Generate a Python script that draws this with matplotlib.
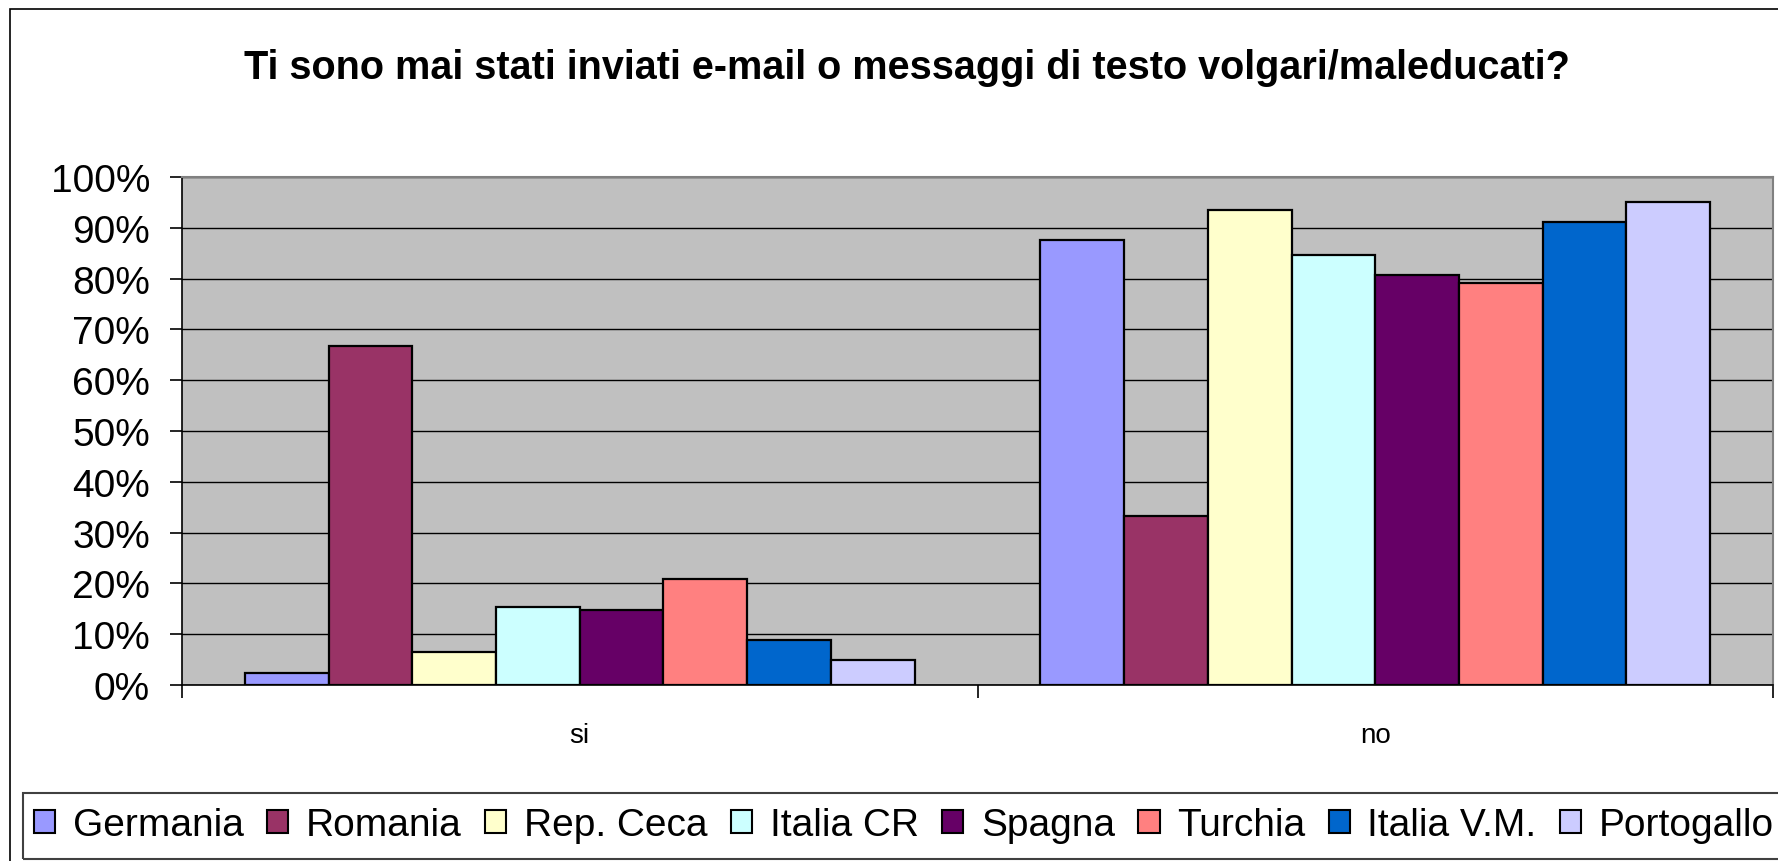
import matplotlib.pyplot as plt
import numpy as np
from matplotlib.patches import Patch, Rectangle

plt.rcParams['font.family'] = ['Liberation Sans', 'DejaVu Sans']

categories = ['si', 'no']
countries = ['Germania', 'Romania', 'Rep. Ceca', 'Italia CR', 'Spagna',
             'Turchia', 'Italia V.M.', 'Portogallo']
si_values = [2.4, 66.7, 6.4, 15.3, 14.8, 20.8, 8.9, 4.9]
no_values = [87.6, 33.3, 93.6, 84.7, 80.7, 79.2, 91.1, 95.1]
colors = ['#9999FF', '#993366', '#FFFFCC', '#CCFFFF', '#660066',
          '#FF8080', '#0066CC', '#CCCCFF']
yticks = [0, 10, 20, 30, 40, 50, 60, 70, 80, 90, 100]

W, H = 1778, 862
fig = plt.figure(figsize=(W / 100, H / 100), dpi=100)

# outer chart frame
fig.patches.append(Rectangle((10 / W, -0.01), 1.05, (H - 10) / H + 0.01,
                             transform=fig.transFigure, fill=False,
                             edgecolor='black', linewidth=1.2))
# legend frame (runs off the right edge like the reference)
fig.patches.append(Rectangle((23 / W, 2 / H), 1.05, (862 - 794 - 2) / H,
                             transform=fig.transFigure, fill=False,
                             edgecolor='#404040', linewidth=1.5))

left, right, top, bottom = 182, 1773, 178, 686
ax = fig.add_axes([left / W, (H - bottom) / H, (right - left) / W, (bottom - top) / H])
ax.set_facecolor('#C0C0C0')

n = len(countries)
group_w = 0.842
bw = group_w / n
centers = np.arange(len(categories)) + 0.5
for i, c in enumerate(countries):
    vals = [si_values[i], no_values[i]]
    xs = centers - group_w / 2 + bw * (i + 0.5)
    ax.bar(xs, vals, width=bw, color=colors[i], edgecolor='black',
           linewidth=1.6, zorder=3)

ax.set_xlim(0, 2)
ax.set_ylim(0, 100)
ax.set_yticks(yticks)
ax.set_yticklabels([f'{v}%' for v in yticks], fontsize=28)
ax.yaxis.grid(True, color='black', linewidth=1.0, zorder=1)
ax.set_axisbelow(True)
ax.tick_params(axis='y', direction='out', length=9, width=1.2, pad=14)

ax.set_xticks(centers)
ax.set_xticklabels(categories, fontsize=20)
ax.set_xticks([0, 1, 2], minor=True)
ax.tick_params(axis='x', which='major', length=0, pad=27)
ax.tick_params(axis='x', which='minor', direction='out', length=9, width=1.2)

for s in ['top', 'right']:
    ax.spines[s].set_color('#808080')
    ax.spines[s].set_linewidth(1.5)
for s in ['left', 'bottom']:
    ax.spines[s].set_color('black')
    ax.spines[s].set_linewidth(1.2)

fig.text(0.5 * (247 + 1567) / W, 1 - 68 / H,
         'Ti sono mai stati inviati e-mail o messaggi di testo volgari/maleducati?',
         ha='center', va='center', fontsize=28.5, fontweight='bold')

handles = [Patch(facecolor=colors[i], edgecolor='black', linewidth=1.5)
           for i in range(n)]
leg = fig.legend(handles, countries, loc='center left', ncol=n,
                 bbox_to_anchor=(34 / W, 1 - 826 / H),
                 fontsize=28, frameon=False,
                 handlelength=0.55, handleheight=0.55, handletextpad=0.45,
                 columnspacing=0.6, borderpad=0.0, borderaxespad=0)

fig.savefig('out.png', dpi=100)
